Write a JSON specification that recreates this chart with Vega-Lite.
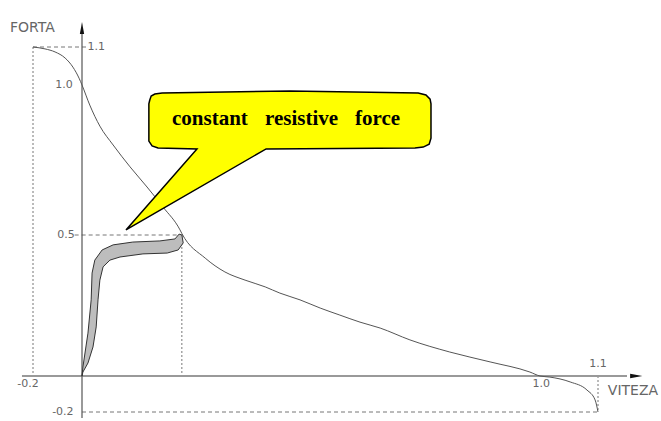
{
  "$schema": "https://vega.github.io/schema/vega-lite/v6.json",
  "width": 661,
  "height": 421,
  "autosize": {"type": "none"},
  "padding": 0,
  "background": "white",
  "config": {"view": {"stroke": null}},
  "datasets": {
    "curve": [
      {"x": -0.2, "y": 1.1}, {"x": -0.151, "y": 1.095}, {"x": -0.11, "y": 1.087}, {"x": -0.069, "y": 1.071},
      {"x": -0.037, "y": 1.047}, {"x": -0.012, "y": 1.018}, {"x": 0, "y": 1.0}, {"x": 0.017, "y": 0.933},
      {"x": 0.039, "y": 0.863}, {"x": 0.068, "y": 0.8}, {"x": 0.105, "y": 0.727}, {"x": 0.142, "y": 0.66},
      {"x": 0.177, "y": 0.593}, {"x": 0.214, "y": 0.517}, {"x": 0.218, "y": 0.505},
      {"x": 0.269, "y": 0.418}, {"x": 0.312, "y": 0.369}, {"x": 0.356, "y": 0.34},
      {"x": 0.4, "y": 0.316}, {"x": 0.432, "y": 0.294}, {"x": 0.476, "y": 0.27}, {"x": 0.52, "y": 0.241},
      {"x": 0.563, "y": 0.216}, {"x": 0.607, "y": 0.191}, {"x": 0.651, "y": 0.17}, {"x": 0.716, "y": 0.128},
      {"x": 0.803, "y": 0.085}, {"x": 0.891, "y": 0.05}, {"x": 0.978, "y": 0.014}, {"x": 1.0, "y": 0.0},
      {"x": 1.017, "y": -0.006}, {"x": 1.052, "y": -0.033}, {"x": 1.081, "y": -0.078}, {"x": 1.095, "y": -0.133},
      {"x": 1.1, "y": -0.2}
    ],
    "loop": [
      {"x": 0, "y": 0}, {"x": 0.002, "y": 0.032}, {"x": 0.013, "y": 0.152}, {"x": 0.02, "y": 0.27},
      {"x": 0.022, "y": 0.365}, {"x": 0.028, "y": 0.411}, {"x": 0.044, "y": 0.447}, {"x": 0.068, "y": 0.465},
      {"x": 0.111, "y": 0.475}, {"x": 0.17, "y": 0.479}, {"x": 0.203, "y": 0.486}, {"x": 0.212, "y": 0.503},
      {"x": 0.218, "y": 0.5}, {"x": 0.221, "y": 0.472}, {"x": 0.21, "y": 0.447}, {"x": 0.186, "y": 0.436},
      {"x": 0.133, "y": 0.433}, {"x": 0.083, "y": 0.422}, {"x": 0.061, "y": 0.411}, {"x": 0.046, "y": 0.387},
      {"x": 0.039, "y": 0.34}, {"x": 0.035, "y": 0.27}, {"x": 0.031, "y": 0.174}, {"x": 0.024, "y": 0.103},
      {"x": 0.013, "y": 0.046}, {"x": 0.002, "y": 0.014}, {"x": 0, "y": 0}
    ],
    "bubble": [
      {"x": 0.148, "y": 0.95}, {"x": 0.151, "y": 0.963}, {"x": 0.159, "y": 0.97}, {"x": 0.175, "y": 0.973},
      {"x": 0.454, "y": 0.98}, {"x": 0.734, "y": 0.973}, {"x": 0.751, "y": 0.967}, {"x": 0.76, "y": 0.953},
      {"x": 0.762, "y": 0.937}, {"x": 0.762, "y": 0.823}, {"x": 0.758, "y": 0.803}, {"x": 0.745, "y": 0.793},
      {"x": 0.727, "y": 0.79}, {"x": 0.402, "y": 0.787}, {"x": 0.096, "y": 0.517}, {"x": 0.251, "y": 0.787},
      {"x": 0.166, "y": 0.79}, {"x": 0.153, "y": 0.797}, {"x": 0.146, "y": 0.813}, {"x": 0.146, "y": 0.937},
      {"x": 0.148, "y": 0.95}
    ],
    "dashH": [
      {"x": -0.2, "y": 1.1, "x2": 0.01, "y2": 1.1},
      {"x": -0.03, "y": 0.5, "x2": 0.218, "y2": 0.5},
      {"x": 0, "y": -0.2, "x2": 1.1, "y2": -0.2}
    ],
    "dashV": [
      {"x": -0.2, "y": 1.1, "x2": -0.2, "y2": 0},
      {"x": 0.218, "y": 0.5, "x2": 0.218, "y2": 0},
      {"x": 1.1, "y": 0, "x2": 1.1, "y2": -0.2}
    ],
    "axisY": [{"x": 0, "y": -0.233, "x2": 0, "y2": 1.14}],
    "axisX": [{"x": -0.245, "y": 0, "x2": 1.15, "y2": 0}],
    "arrows": [
      {"x": 0, "y": 1.15, "dir": "up"},
      {"x": 1.166, "y": 0, "dir": "right"}
    ],
    "words": [
      {"x": 0.1965, "y": 0.867, "label": "constant"},
      {"x": 0.3996, "y": 0.867, "label": "resistive"},
      {"x": 0.596, "y": 0.867, "label": "force"}
    ],
    "labelsC": [
      {"x": 0.031, "y": 1.1, "label": "1.1"},
      {"x": -0.073, "y": 1.0, "label": "1.0"},
      {"x": -0.065, "y": 0.5, "label": "0.5"},
      {"x": -0.22, "y": -0.044, "label": "-0.2"},
      {"x": -0.078, "y": -0.2, "label": "-0.2"},
      {"x": 1.002, "y": -0.044, "label": "1.0"},
      {"x": 1.1, "y": 0.043, "label": "1.1"}
    ],
    "labelsL": [
      {"x": -0.294, "y": 1.15, "label": "FORTA"},
      {"x": 1.117, "y": -0.083, "label": "VITEZA"}
    ]
  },
  "encoding": {
    "x": {"field": "x", "type": "quantitative", "axis": null,
          "scale": {"domain": [-0.2, 0, 1, 1.1], "range": [33, 82, 540, 598], "nice": false, "zero": false}},
    "y": {"field": "y", "type": "quantitative", "axis": null,
          "scale": {"domain": [-0.2, 0, 0.5, 1, 1.1], "range": [412, 376, 235, 85, 47], "nice": false, "zero": false}}
  },
  "layer": [
    {
      "data": {"name": "dashH"},
      "mark": {"type": "rule", "color": "#777", "strokeWidth": 1, "strokeDash": [4, 3]},
      "encoding": {"x2": {"field": "x2"}, "y2": {"field": "y2"}}
    },
    {
      "data": {"name": "dashV"},
      "mark": {"type": "rule", "color": "#777", "strokeWidth": 1, "strokeDash": [2, 2]},
      "encoding": {"x2": {"field": "x2"}, "y2": {"field": "y2"}}
    },
    {
      "data": {"name": "axisX"},
      "mark": {"type": "rule", "color": "#999", "strokeWidth": 2},
      "encoding": {"x2": {"field": "x2"}, "y2": {"field": "y2"}}
    },
    {
      "data": {"name": "axisY"},
      "mark": {"type": "rule", "color": "#555", "strokeWidth": 1.2},
      "encoding": {"x2": {"field": "x2"}, "y2": {"field": "y2"}}
    },
    {
      "data": {"name": "arrows"},
      "mark": {"type": "point", "filled": true, "color": "#111", "opacity": 1, "size": 150},
      "encoding": {
        "shape": {"field": "dir", "type": "nominal", "legend": null,
                  "scale": {"domain": ["up", "right"], "range": ["M0,-1L0.35,1L-0.35,1Z", "M1,0L-1,-0.35L-1,0.35Z"]}}
      }
    },
    {
      "data": {"name": "curve"},
      "mark": {"type": "line", "color": "#555", "strokeWidth": 1, "interpolate": "monotone"},
      "encoding": {"order": {"value": null}}
    },
    {
      "data": {"name": "loop"},
      "mark": {"type": "line", "stroke": "#333", "fill": "#bdbdbd", "strokeWidth": 1},
      "encoding": {"order": {"value": null}}
    },
    {
      "data": {"name": "bubble"},
      "mark": {"type": "line", "stroke": "#000", "fill": "#ffff00", "strokeWidth": 1.5},
      "encoding": {"order": {"value": null}}
    },
    {
      "data": {"name": "words"},
      "mark": {"type": "text", "font": "Liberation Serif", "fontWeight": "bold", "fontSize": 21, "align": "left", "baseline": "alphabetic", "color": "#000"},
      "encoding": {"text": {"field": "label"}}
    },
    {
      "data": {"name": "labelsC"},
      "mark": {"type": "text", "font": "DejaVu Sans", "fontSize": 11, "align": "center", "baseline": "middle", "color": "#666"},
      "encoding": {"text": {"field": "label"}}
    },
    {
      "data": {"name": "labelsL"},
      "mark": {"type": "text", "font": "DejaVu Sans", "fontSize": 14, "align": "left", "baseline": "middle", "color": "#666"},
      "encoding": {"text": {"field": "label"}}
    }
  ]
}
